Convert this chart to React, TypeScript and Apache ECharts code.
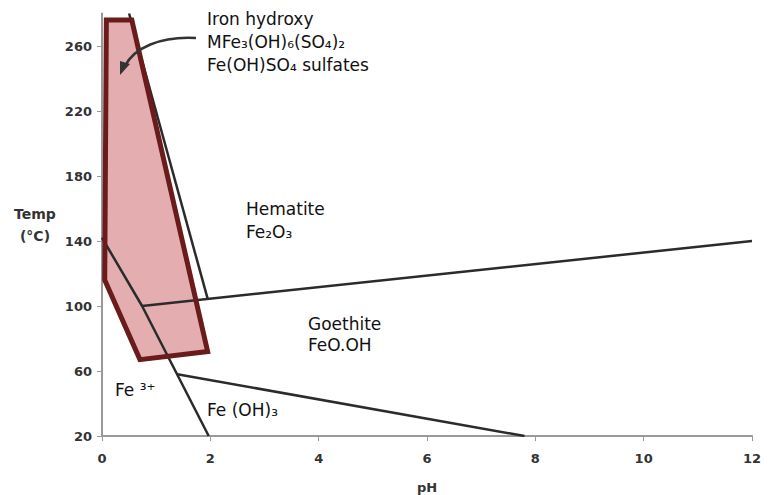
import React, { useEffect, useRef } from "react";
import * as echarts from "echarts";

// Axis ticks
const xTicks = [0, 2, 4, 6, 8, 10, 12];
const yTicks = [20, 60, 100, 140, 180, 220, 260];

// Phase boundary lines [pH, Temp]
const hematiteLeftBoundary = [
  [0.5, 280],
  [1.95, 104.5],
];
const hematiteGoethiteBoundary = [
  [0.74, 100],
  [12, 140],
];
const fe3Boundary = [
  [0, 142],
  [0.74, 100],
  [1.97, 20],
];
const feOH3Boundary = [
  [1.39, 58],
  [7.8, 20],
];

// Iron hydroxy sulfates region (polygon vertices)
const sulfateRegion = [
  [0.08, 276],
  [0.55, 276],
  [1.95, 72],
  [0.7, 67],
  [0.05, 116],
];

const FONT = '"DejaVu Sans", Verdana, sans-serif';

export default function App() {
  const ref = useRef<HTMLDivElement>(null);

  useEffect(() => {
    if (!ref.current) return;
    const chart = echarts.init(ref.current, null, { renderer: "svg" });

    const lineStyle = { color: "#2b2b2b", width: 2.5 };
    const mkLine = (name: string, data: number[][]) => ({
      name,
      type: "line",
      data,
      symbol: "none",
      lineStyle,
      z: 3,
      silent: true,
    });

    const polyRender = (fill: boolean) => (params: any, api: any) => {
      if (params.dataIndex !== 0) return null;
      const pts = sulfateRegion.map((p) => api.coord(p));
      return {
        type: "polygon",
        shape: { points: pts },
        style: fill
          ? { fill: "#E4AEB1", stroke: "none" }
          : { fill: "none", stroke: "#6A1B1B", lineWidth: 5, lineJoin: "miter" },
      };
    };

    const labelStyle = { fontFamily: FONT, fontWeight: "bold", fontSize: 13, color: "#333" };
    const regionFont = `17px ${FONT}`;
    const regionColor = "#111";

    chart.setOption({
      animation: false,
      grid: { left: 102, right: 16, top: 13.5, bottom: 59, outerBoundsMode: "none" },
      xAxis: {
        type: "value",
        min: 0,
        max: 12,
        interval: 2,
        splitLine: { show: false },
        axisLine: { lineStyle: { color: "#999", width: 2 } },
        axisTick: { length: 5, lineStyle: { color: "#999" }, customValues: xTicks },
        axisLabel: { ...labelStyle, margin: 16, customValues: xTicks },
        name: "pH",
        nameLocation: "middle",
        nameGap: 45,
        nameTextStyle: { ...labelStyle },
      },
      yAxis: {
        type: "value",
        min: 20,
        max: 280,
        interval: 40,
        splitLine: { show: false },
        axisLine: { show: true, lineStyle: { color: "#999", width: 2 } },
        axisTick: { show: true, length: 5, lineStyle: { color: "#999" }, customValues: yTicks },
        axisLabel: { ...labelStyle, margin: 10, customValues: yTicks },
      },
      series: [
        {
          type: "custom",
          name: "Iron hydroxy sulfates",
          data: sulfateRegion,
          renderItem: polyRender(true),
          z: 1,
          silent: true,
        },
        mkLine("Hematite left", hematiteLeftBoundary),
        mkLine("Hematite/Goethite", hematiteGoethiteBoundary),
        mkLine("Fe3+", fe3Boundary),
        mkLine("Fe(OH)3", feOH3Boundary),
        {
          type: "custom",
          name: "Iron hydroxy sulfates outline",
          data: sulfateRegion,
          renderItem: polyRender(false),
          z: 5,
          silent: true,
        },
      ],
      graphic: [
        {
          type: "text",
          style: {
            text: "Temp\n(°C)",
            x: 35,
            y: 225,
            align: "center",
            verticalAlign: "middle",
            font: `bold 14px ${FONT}`,
            lineHeight: 22,
            fill: "#333",
          },
        },
        {
          type: "bezierCurve",
          shape: { x1: 196, y1: 38, x2: 125, y2: 66, cpx1: 160, cpy1: 36, cpx2: 134, cpy2: 48 },
          style: { stroke: "#333", lineWidth: 2.5, fill: "none" },
          z: 10,
        },
        {
          type: "polygon",
          shape: { points: [[120, 75], [130, 64], [120, 61]] },
          style: { fill: "#333" },
          z: 10,
        },
        {
          type: "text",
          style: {
            text: "Iron hydroxy\nMFe₃(OH)₆(SO₄)₂\nFe(OH)SO₄ sulfates",
            x: 207,
            y: 42,
            verticalAlign: "middle",
            font: regionFont,
            lineHeight: 23,
            fill: regionColor,
          },
        },
        {
          type: "text",
          style: {
            text: "Hematite\nFe₂O₃",
            x: 246,
            y: 220,
            verticalAlign: "middle",
            font: regionFont,
            lineHeight: 23,
            fill: regionColor,
          },
        },
        {
          type: "text",
          style: {
            text: "Goethite\nFeO.OH",
            x: 308,
            y: 334,
            verticalAlign: "middle",
            font: regionFont,
            lineHeight: 21,
            fill: regionColor,
          },
        },
        {
          type: "text",
          style: {
            text: "Fe ³⁺",
            x: 115,
            y: 390,
            verticalAlign: "middle",
            font: regionFont,
            fill: regionColor,
          },
        },
        {
          type: "text",
          style: {
            text: "Fe (OH)₃",
            x: 207,
            y: 410,
            verticalAlign: "middle",
            font: regionFont,
            fill: regionColor,
          },
        },
      ],
    });

    return () => chart.dispose();
  }, []);

  return (
    <div
      ref={ref}
      style={{ position: "fixed", left: 0, top: 0, width: 768, height: 495, background: "#fff" }}
    />
  );
}
